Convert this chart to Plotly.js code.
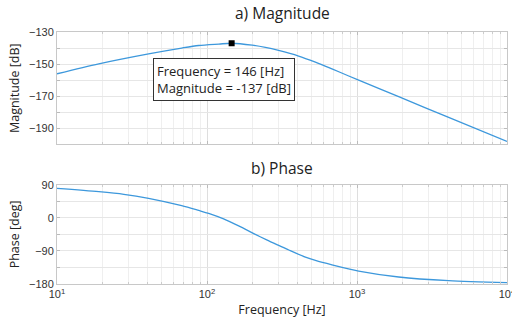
<!DOCTYPE html>
<html><head><meta charset="utf-8">
<script src="https://cdn.plot.ly/plotly-3.0.1.min.js"></script>
<style>body{margin:0;padding:0;background:#fff}#c{width:512px;height:324px}</style>
</head><body><div id="c"></div>
<script>
// Magnitude response
const magFreq = [10, 19, 40.8, 67.8, 88, 120, 146, 200, 245, 300, 408, 528, 681, 881, 1026, 1896, 4083, 10000];
const magDb   = [-156, -149.8, -143.6, -140, -138.4, -137.5, -137, -138.2, -139.6, -141.5, -145, -148.8, -153, -157.4, -160, -170.3, -183.2, -198.2];
// Phase response
const phFreq = [10, 19, 27.9, 40.8, 67.8, 88.1, 102.6, 129, 162.6, 210, 250, 300.6, 351, 453, 528, 681, 1026, 1896, 4083, 10000];
const phDeg  = [80, 71, 64, 53, 33, 20, 12, -3, -22, -45, -60, -75, -87.5, -107, -116, -128, -145, -161, -171, -176.5];
// Peak marker
const peakFreq = [146];
const peakMag = [-137];
const magTicks = [-200, -190, -180, -170, -160, -150, -140, -130];
const magTickText = ['', '\u2212190', '', '\u2212170', '', '\u2212150', '', '\u2212130'];
const phTicks = [-180, -135, -90, -45, 0, 45, 90];
const phTickText = ['\u2212180', '', '\u221290', '', '0', '', '90'];
const xTicks = [10, 100, 1000, 10000];
const xTickText = ['10<sup>1</sup>', '10<sup>2</sup>', '10<sup>3</sup>', '10<sup>4</sup>'];

const lineColor = '#3d98dc';
const gridC = '#e6e6e6';
const axC = '#c8c8c8';
const tickFont = {family: 'Liberation Sans, Arial, sans-serif', size: 11, color: '#333'};

function xax(extra) {
  return Object.assign({
    type: 'log', range: [1, 4], showgrid: true, gridcolor: '#dedede', gridwidth: 1,
    showline: true, linecolor: axC, mirror: 'ticks', ticks: 'inside', ticklen: 3, tickcolor: '#bbb',
    tickvals: xTicks, ticktext: xTickText, tickfont: tickFont, zeroline: false,
    ticklabeloverflow: 'allow',
    minor: {showgrid: true, gridcolor: '#efefef', dtick: 'D1', ticks: 'inside', ticklen: 2, tickcolor: '#ccc'}
  }, extra);
}
function yax(extra) {
  return Object.assign({
    showgrid: true, gridcolor: gridC, showline: true, linecolor: axC, mirror: 'ticks',
    ticks: 'inside', ticklen: 3, tickcolor: '#bbb', tickfont: tickFont, zeroline: false,
    tickmode: 'array'
  }, extra);
}

const lineStyle = {color: lineColor, width: 1.3, shape: 'spline', smoothing: 0.8};
const traces = [
  {x: magFreq, y: magDb, xaxis: 'x', yaxis: 'y', mode: 'lines', line: lineStyle, hoverinfo: 'skip'},
  {x: peakFreq, y: peakMag, xaxis: 'x', yaxis: 'y', mode: 'markers', marker: {color: '#000', symbol: 'square', size: 6}, hoverinfo: 'skip'},
  {x: phFreq, y: phDeg, xaxis: 'x2', yaxis: 'y2', mode: 'lines', line: lineStyle, hoverinfo: 'skip'}
];

const titleFont = {family: 'Open Sans, Liberation Sans, sans-serif', size: 15.5, color: '#222'};
const axTitleFont = {family: 'Open Sans, Liberation Sans, sans-serif', size: 12.5, color: '#222'};

const layout = {
  width: 512, height: 324,
  margin: {l: 57, r: 5, t: 32, b: 40},
  paper_bgcolor: '#fff', plot_bgcolor: '#fff',
  showlegend: false,
  xaxis: xax({anchor: 'y', showticklabels: false}),
  yaxis: yax({domain: [0.554, 1], range: [-200, -130], tickvals: magTicks, ticktext: magTickText,
    title: {text: 'Magnitude [dB]', font: axTitleFont, standoff: 6}}),
  xaxis2: xax({anchor: 'y2', matches: 'x', title: {text: 'Frequency [Hz]', font: axTitleFont, standoff: 6}}),
  yaxis2: yax({domain: [0, 0.394], range: [-180, 90], tickvals: phTicks, ticktext: phTickText,
    title: {text: 'Phase [deg]', font: axTitleFont, standoff: 6}}),
  annotations: [
    {text: 'a) Magnitude', xref: 'paper', yref: 'paper', x: 0.5, y: 1, yshift: 6, xanchor: 'center', yanchor: 'bottom', showarrow: false, font: titleFont},
    {text: 'b) Phase', xref: 'paper', yref: 'paper', x: 0.5, y: 0.394, yshift: 4, xanchor: 'center', yanchor: 'bottom', showarrow: false, font: titleFont},
    {text: 'Frequency = 146 [Hz]<br>Magnitude = -137 [dB]', xref: 'paper', yref: 'paper',
     x: (153 - 57) / 450, y: 1 - (58 - 32) / 252 , xanchor: 'left', yanchor: 'top', align: 'left',
     showarrow: false, bgcolor: '#fff', bordercolor: '#333', borderwidth: 1, borderpad: 3,
     font: {family: 'Open Sans, Liberation Sans, sans-serif', size: 13, color: '#222'}}
  ]
};
Plotly.newPlot('c', traces, layout, {staticPlot: true});
</script></body></html>
